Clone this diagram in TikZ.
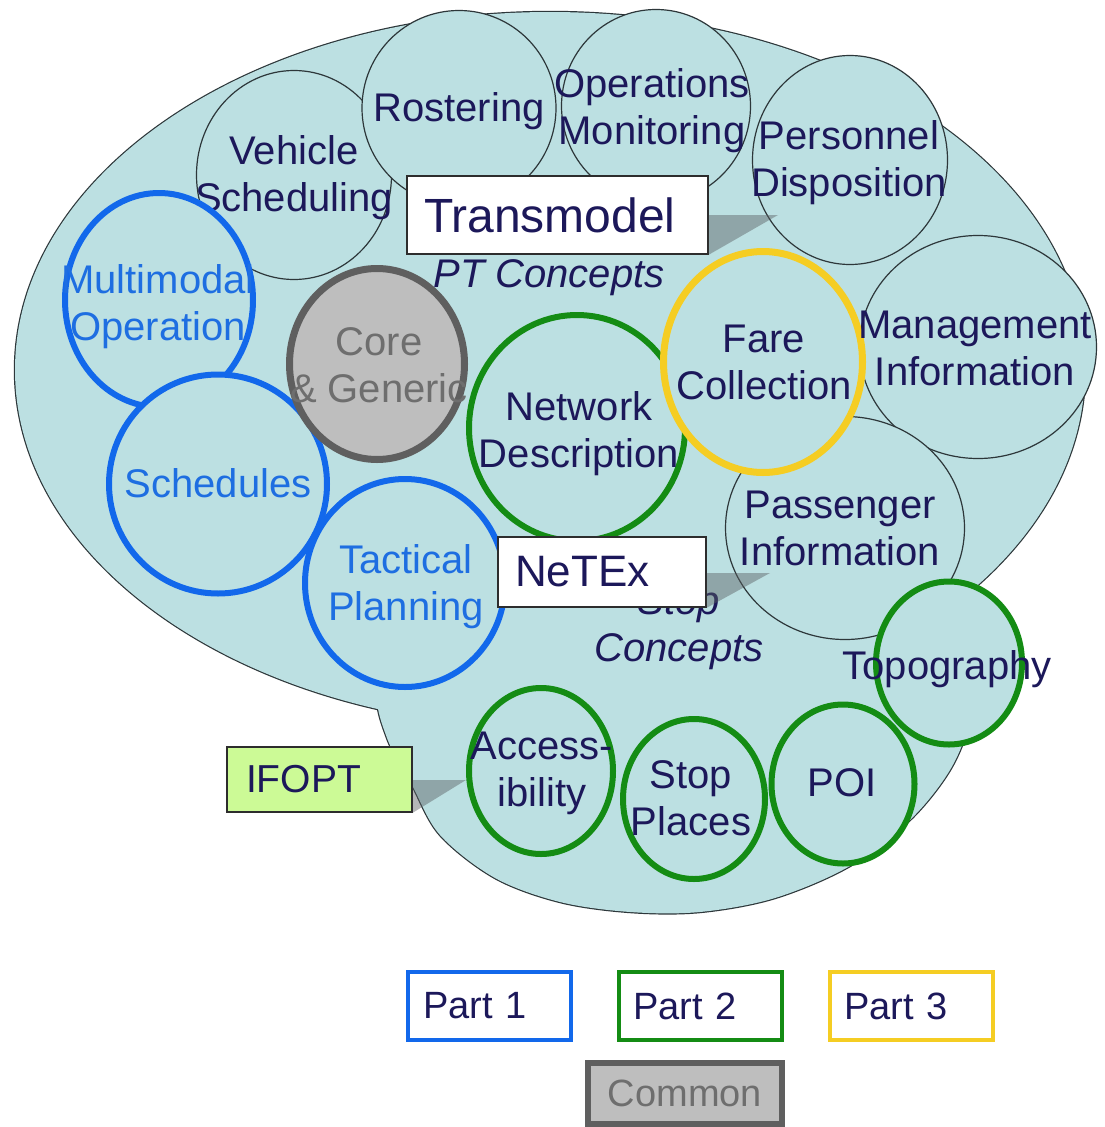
\documentclass[tikz,border=0pt]{standalone}
\usepackage{fontspec}
\setmainfont{Liberation Sans}
\usetikzlibrary{shapes.geometric}

\definecolor{bgblue}{RGB}{188,224,226}
\definecolor{rimgray}{RGB}{45,55,58}
\definecolor{navy}{RGB}{28,24,90}
\definecolor{pblue}{RGB}{18,104,235}
\definecolor{tblue}{RGB}{30,110,225}
\definecolor{pgreen}{RGB}{20,140,20}
\definecolor{pyellow}{RGB}{245,205,35}
\definecolor{cmfill}{RGB}{190,190,190}
\definecolor{cmdraw}{RGB}{95,95,95}
\definecolor{cmtext}{RGB}{110,110,110}
\definecolor{boxrim}{RGB}{45,45,45}
\definecolor{shade}{RGB}{90,95,98}
\definecolor{ifoptgreen}{RGB}{204,250,150}

\begin{document}
\begin{tikzpicture}[x=1pt, y=-1pt,
  rim/.style={draw=rimgray, line width=2.4pt},
  lobe/.style={insert path={plot[smooth cycle, tension=0.55] coordinates {
      (378,690) (387,738) (412,785) (440,835) (495,878) (560,902) (630,912)
      (700,912) (775,898) (850,866) (910,820) (950,770) (970,720) (975,665)
      (962,615) (900,565) (720,540) (520,570) (410,635)}}},
  disc/.style={ellipse, inner sep=0pt, outer sep=0pt, fill=bgblue},
  tmdisc/.style={disc, draw=rimgray, line width=1.2pt},
  p1disc/.style={disc, draw=pblue, line width=6pt},
  p2disc/.style={disc, draw=pgreen, line width=6pt},
  p3disc/.style={disc, draw=pyellow, line width=7pt},
  cmdisc/.style={disc, fill=cmfill, draw=cmdraw, line width=7pt},
  lbl/.style={align=center, inner sep=0pt, text=navy, font=\fontsize{40}{47}\selectfont},
  lblblue/.style={lbl, text=tblue},
  lblgray/.style={lbl, text=cmtext},
  note/.style={lbl, font=\fontsize{40}{47}\selectfont\itshape},
  tag/.style={draw=boxrim, line width=1.5pt, fill=white, inner ysep=0pt, inner xsep=17pt, align=left, text=navy},
  callout/.style={fill=shade, fill opacity=0.45},
  key/.style={fill=white, line width=4pt, inner ysep=0pt, inner xsep=15pt, text=navy,
    font=\fontsize{38}{44}\selectfont, minimum height=68pt, text width=133pt, align=left},
]
\useasboundingbox (0,0) rectangle (1105,1127);
\fill[white] (0,0) rectangle (1105,1127);

% ---- overall domain: large ellipse joined with a lower lobe
% outlines first (doubled width), then both fills hide the inner halves and the seams
\draw[rim] (550,370) ellipse [x radius=535, y radius=358];
\draw[rim] (378,690) [lobe];
\fill[bgblue] (550,370) ellipse [x radius=535, y radius=358];
\fill[bgblue] (378,690) [lobe];

% ---- Transmodel domains (upper ring)
\node[tmdisc, minimum width=195pt, minimum height=209pt] (vehicle) at (294,175) {};
\node[lbl] (vehicle-t) at (294,178) {Vehicle\\Scheduling};
\node[tmdisc, minimum width=194pt, minimum height=195pt] (rostering) at (459,108) {};
\node[lbl] (rostering-t) at (459,111) {Rostering};
\node[tmdisc, minimum width=189pt, minimum height=193pt] (operations) at (656,106) {};
\node[lbl] (operations-t) at (652,111) {Operations\\Monitoring};
\node[tmdisc, minimum width=195pt, minimum height=209pt] (personnel) at (850,160) {};
\node[lbl] (personnel-t) at (849,163) {Personnel\\Disposition};
\node[tmdisc, minimum width=237pt, minimum height=223pt] (management) at (978,347) {};
\node[tmdisc, minimum width=239pt, minimum height=223pt] (passenger) at (845,528) {};
\node[lbl] (passenger-t) at (840,528) {Passenger\\Information};

% ---- Part 1 domains
\node[p1disc, minimum width=188pt, minimum height=214pt] (multimodal) at (159,300) {};
\node[lblblue] (multimodal-t) at (158,307) {Multimodal\\Operation};
\node[p1disc, minimum width=218pt, minimum height=219pt] (schedules) at (218,484) {};
\node[lblblue] (schedules-t) at (218,483) {Schedules};

% ---- common core
\node[cmdisc, minimum width=175pt, minimum height=191pt] (core) at (377,364) {};
\node[lblgray] (core-t) at (379,365) {Core\\\& Generic};

\node[p2disc, minimum width=216pt, minimum height=226pt] (network) at (577,428) {};
\node[lbl] (network-t) at (579,434) {Network\\Description};
\node[p1disc, minimum width=200pt, minimum height=208pt] (tactical) at (405,583) {};
\node[lblblue] (tactical-t) at (406,587) {Tactical\\Planning};

% ---- Part 3
\node[p3disc, minimum width=199pt, minimum height=221pt] (fare) at (763,362) {};
\node[lbl] (fare-t) at (764,362) {Fare\\Collection};
\node[lbl] (management-t) at (975,348) {Management\\Information};

% ---- concept captions
\node[note] (ptconcepts) at (549,278) {PT Concepts};
\node[note] (stopconcepts) at (679,628) {Stop\\Concepts};

% ---- IFOPT / Part 2 stop domains
\node[p2disc, minimum width=143pt, minimum height=159pt] (poi) at (843,784) {};
\node[lbl] (poi-t) at (842,783) {POI};
\node[p2disc, minimum width=146pt, minimum height=163pt] (topography) at (949,663) {};
\node[lbl] (topography-t) at (947,669) {Topography};
\node[p2disc, minimum width=144pt, minimum height=166pt] (accessibility) at (541,771) {};
\node[lbl] (accessibility-t) at (542,773) {Access-\\ibility};
\node[p2disc, minimum width=142pt, minimum height=160pt] (stopplaces) at (694,799) {};
\node[lbl] (stopplaces-t) at (691,798) {Stop\\Places};

% ---- standard tags with callouts
\coordinate (tm-tip) at (778,215);
\coordinate (nx-tip) at (770,573);
\coordinate (if-tip) at (466,780);

\node[tag, text width=267pt, minimum height=78pt, font=\fontsize{48}{56}\selectfont]
  (transmodel) at (557.5,215) {Transmodel};
\node[tag, text width=174pt, minimum height=70pt, font=\fontsize{44}{52}\selectfont]
  (netex) at (602,572) {NeTEx};
\node[tag, fill=ifoptgreen, inner xsep=19pt, text width=147pt, minimum height=65pt,
  font=\fontsize{39}{46}\selectfont] (ifopt) at (319.5,779.5) {IFOPT};

\fill[callout] (transmodel.east |- tm-tip) -- (tm-tip) -- (transmodel.south east) -- cycle;
\fill[callout] (netex.east |- nx-tip) -- (nx-tip) -- (netex.south east) -- cycle;
\fill[callout] (ifopt.east |- if-tip) -- (if-tip) -- (ifopt.south east) -- cycle;

% ---- legend
\node[key, draw=pblue] (part1) at (489.5,1006) {Part 1};
\node[key, draw=pgreen] (part2) at (700,1006) {Part 2};
\node[key, draw=pyellow] (part3) at (911,1006) {Part 3};
\node[key, draw=cmdraw, fill=cmfill, line width=6pt, text=cmtext, text width=164pt,
  minimum height=61pt, align=center] (common) at (685,1093.5) {Common};
\end{tikzpicture}
\end{document}
